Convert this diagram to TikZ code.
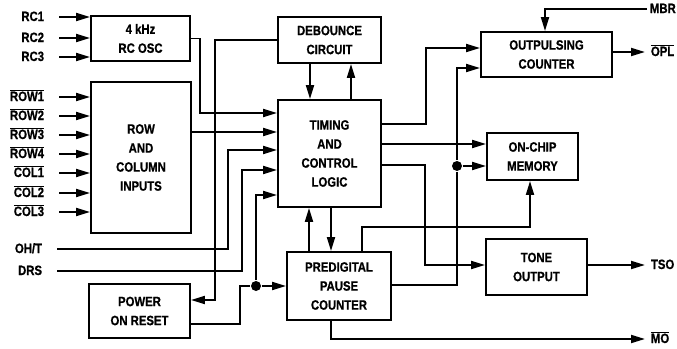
\documentclass[tikz,border=0pt]{standalone}
\usepackage{fontspec}
\setmainfont{Liberation Sans}[FakeStretch=0.84, BoldFeatures={FakeBold=0.8}]
\usepackage{tikz}
\usetikzlibrary{arrows.meta,positioning}
\newcommand{\ovl}[1]{$\overline{\mbox{#1}}$}

\begin{document}
\begin{tikzpicture}[x=1pt, y=-1pt, >={Triangle[length=14pt,width=8pt]},
  line width=1.9pt,
  blk/.style={draw, align=center, inner sep=2pt,
    font=\fontsize{13.5}{19}\selectfont\bfseries},
  lbl/.style={inner sep=2pt, text height=10pt, text depth=2pt,
    font=\fontsize{13.5}{15}\selectfont\bfseries},
  dot/.style={circle, fill, inner sep=0pt, minimum size=10pt}]
\useasboundingbox (0,0) rectangle (677,348);

% blocks
\node[blk, minimum width=99pt, minimum height=45pt] (osc) at (140.5,38.5) {4 kHz\\RC OSC};
\node[blk, minimum width=100pt, minimum height=151pt] (keys) at (141,157.5) {ROW\\AND\\COLUMN\\INPUTS};
\node[blk, minimum width=101pt, minimum height=54pt] (reset) at (139.5,311) {POWER\\ON RESET};
\node[blk, minimum width=103pt, minimum height=46pt] (debounce) at (329.5,40) {DEBOUNCE\\CIRCUIT};
\node[blk, minimum width=103pt, minimum height=107pt] (timing) at (329.5,153.5) {TIMING\\AND\\CONTROL\\LOGIC};
\node[blk, minimum width=104pt, minimum height=68pt] (pause) at (339,286) {PREDIGITAL\\PAUSE\\COUNTER};
\node[blk, minimum width=131pt, minimum height=45pt] (outpuls) at (546.5,54.5) {OUTPULSING\\COUNTER};
\node[blk, minimum width=91pt, minimum height=47pt] (memory) at (532.5,156.5) {ON-CHIP\\MEMORY};
\node[blk, minimum width=101pt, minimum height=56pt] (tone) at (536.5,267) {TONE\\OUTPUT};

% pin names
\node[lbl, anchor=east] (rc1) at (47,17) {RC1};
\node[lbl, anchor=east] (rc2) at (47,38) {RC2};
\node[lbl, anchor=east] (rc3) at (47,57) {RC3};
\node[lbl, anchor=east] (row1) at (47,97) {\ovl{ROW1}};
\node[lbl, anchor=east] (row2) at (47,116) {\ovl{ROW2}};
\node[lbl, anchor=east] (row3) at (47,135) {\ovl{ROW3}};
\node[lbl, anchor=east] (row4) at (47,154) {\ovl{ROW4}};
\node[lbl, anchor=east] (col1) at (47,173) {\ovl{COL1}};
\node[lbl, anchor=east] (col2) at (47,193) {\ovl{COL2}};
\node[lbl, anchor=east] (col3) at (47,212) {\ovl{COL3}};
\node[lbl, anchor=east] (oht) at (45,249) {OH/T};
\node[lbl, anchor=east] (drs) at (45,271) {DRS};
\node[lbl, anchor=west] (mbr) at (647,9) {MBR};
\node[lbl, anchor=west] (opl) at (648,52) {\ovl{OPL}};
\node[lbl, anchor=west] (tso) at (648,265) {TSO};
\node[lbl, anchor=west] (mo) at (648,339) {\ovl{MO}};

% junction dots
\node[dot] (j1) at (256,286) {};
\node[dot] (j2) at (457,166) {};

% inputs
\draw[->, shorten <=12pt] (rc1) -- (rc1 -| osc.west);
\draw[->, shorten <=12pt] (rc2) -- (rc2 -| osc.west);
\draw[->, shorten <=12pt] (rc3) -- (rc3 -| osc.west);
\draw[->, shorten <=12pt] (row1) -- (row1 -| keys.west);
\draw[->, shorten <=12pt] (row2) -- (row2 -| keys.west);
\draw[->, shorten <=12pt] (row3) -- (row3 -| keys.west);
\draw[->, shorten <=12pt] (row4) -- (row4 -| keys.west);
\draw[->, shorten <=12pt] (col1) -- (col1 -| keys.west);
\draw[->, shorten <=12pt] (col2) -- (col2 -| keys.west);
\draw[->, shorten <=12pt] (col3) -- (col3 -| keys.west);

% into timing and control logic
\draw[->] (osc.east) -| (200,113) -- (timing.west |- 0,113);
\draw[->] (keys.east |- 0,132) -- (timing.west |- 0,132);
\draw[->, shorten <=12pt] (oht) -| (228,150) -- (timing.west |- 0,150);
\draw[->, shorten <=12pt] (drs) -| (242,170) -- (timing.west |- 0,170);
\draw (reset.east |- 0,324) -| (240,286) -- (j1);
\draw[->] (j1) -- (pause.west |- j1);
\draw[->] (j1) |- (timing.west |- 0,195);
\draw[->] (debounce.west) -| (215,300) -- (reset.east |- 0,300);

\draw[->] (debounce.south -| 310,0) -- (timing.north -| 310,0);
\draw[->] (timing.north -| 351,0) -- (debounce.south -| 351,0);
\draw[->] (pause.north -| 309,0) -- (timing.south -| 309,0);
\draw[->] (timing.south -| 331,0) -- (pause.north -| 331,0);

% outputs
\draw[->] (timing.east |- 0,124) -| (426,48) -- (outpuls.west |- 0,48);
\draw[->] (timing.east |- 0,144) -- (memory.west |- 0,144);
\draw[->] (timing.east |- 0,165) -| (425,265) -- (tone.west |- 0,265);
\draw (pause.east |- 0,285) -| (j2);
\draw[->] (j2) -- (memory.west |- j2);
\draw[->] (j2) |- (outpuls.west |- 0,68);
\draw[->] (pause.north -| 362,0) |- (530,227) -- (memory.south -| 530,0);
\draw[->, shorten >=3pt] (pause.south -| 331,0) |- (mo);
\draw[->] (mbr) -| (outpuls.north -| 545,0);
\draw[->, shorten >=3pt] (outpuls.east |- opl) -- (opl);
\draw[->, shorten >=3pt] (tone.east |- tso) -- (tso);
\end{tikzpicture}
\end{document}
